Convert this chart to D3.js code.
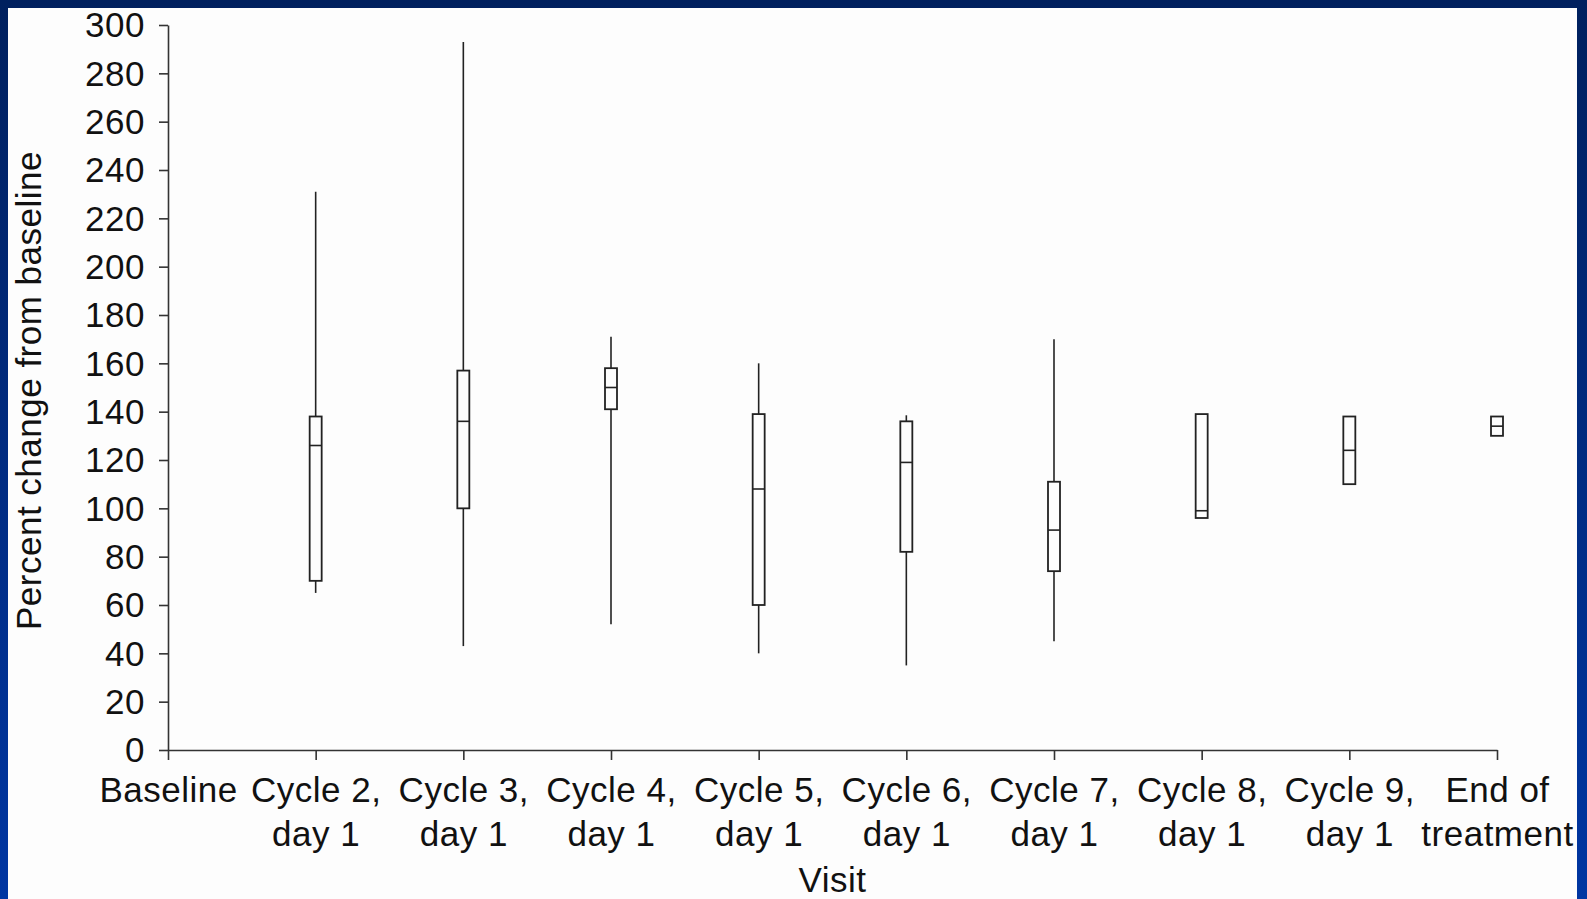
<!DOCTYPE html>
<html>
<head>
<meta charset="utf-8">
<script src="https://cdn.jsdelivr.net/npm/d3@7"></script>
<style>
  html, body { margin: 0; padding: 0; background: #fdfdfd; }
  svg { display: block; }
  text { font-family: "Liberation Sans", Arial, Helvetica, sans-serif; fill: #111; letter-spacing: 0.5px; }
</style>
</head>
<body>
<svg id="chart" width="1587" height="899"></svg>
<script>
// ---- data ----
const categories = ["Baseline", "Cycle 2,\nday 1", "Cycle 3,\nday 1", "Cycle 4,\nday 1", "Cycle 5,\nday 1",
                    "Cycle 6,\nday 1", "Cycle 7,\nday 1", "Cycle 8,\nday 1", "Cycle 9,\nday 1", "End of\ntreatment"];
const whiskerLow  = [null, 65, 43, 52, 40, 35, 45, 96, 110, 130];
const q1          = [null, 70, 100, 141, 60, 82, 74, 96, 110, 130];
const median      = [null, 126, 136, 150, 108, 119, 91, 99, 124, 134];
const q3          = [null, 138, 157, 158, 139, 136, 111, 139, 138, 138];
const whiskerHigh = [null, 231, 293, 171, 160, 138.5, 170, 139, 138, 138];
const yTicks = [0, 20, 40, 60, 80, 100, 120, 140, 160, 180, 200, 220, 240, 260, 280, 300];
const yTitle = "Percent change from baseline";
const xTitle = "Visit";

// ---- layout ----
const W = 1587, H = 899;
const svg = d3.select("#chart");

// frame with gradient border
const defs = svg.append("defs");
const grad = defs.append("linearGradient").attr("id", "bord").attr("x1", 0).attr("y1", 0).attr("x2", 0).attr("y2", 1);
grad.append("stop").attr("offset", "0%").attr("stop-color", "#00205e");
grad.append("stop").attr("offset", "100%").attr("stop-color", "#0036a2");
svg.append("rect").attr("width", W).attr("height", H).attr("fill", "url(#bord)");
svg.append("rect").attr("x", 8).attr("y", 8).attr("width", W - 8 - 10).attr("height", H - 8).attr("fill", "#fdfdfd");

const x = d3.scalePoint().domain(categories).range([168, 1497]);
const y = d3.scaleLinear().domain([0, 300]).range([750, 25]);

const FS = 35;

// y axis
const yAxis = svg.append("g").attr("transform", "translate(168,0)")
  .call(d3.axisLeft(y).tickValues(yTicks).tickSize(9).tickSizeOuter(0).tickPadding(14));
yAxis.select(".domain").attr("stroke", "#333").attr("stroke-width", 1.6);
yAxis.selectAll(".tick line").attr("stroke", "#333").attr("stroke-width", 1.6);
yAxis.selectAll(".tick text").attr("font-size", FS).attr("font-family", "Liberation Sans, Arial, sans-serif")
  .attr("fill", "#111").attr("dy", "0.34em");

// x axis
const xAxis = svg.append("g").attr("transform", "translate(0,750)")
  .call(d3.axisBottom(x).tickSize(10).tickSizeOuter(0).tickFormat(""));
xAxis.select(".domain").attr("stroke", "#333").attr("stroke-width", 1.6);
xAxis.selectAll(".tick line").attr("stroke", "#333").attr("stroke-width", 1.6);
xAxis.selectAll(".tick").each(function(d) {
  const lines = d.split("\n");
  const t = d3.select(this).append("text")
    .attr("text-anchor", "middle").attr("font-size", FS)
    .attr("font-family", "Liberation Sans, Arial, sans-serif").attr("fill", "#111");
  lines.forEach((l, i) => {
    t.append("tspan").attr("x", 0).attr("y", 52 + i * 44).text(l);
  });
});

// box plots
const data = categories.map((c, i) => ({
  c, lo: whiskerLow[i], q1: q1[i], med: median[i], q3: q3[i], hi: whiskerHigh[i]
})).filter(d => d.med !== null);

const bw = 12;
const g = svg.append("g");
data.forEach(d => {
  const cx = x(d.c);
  if (d.hi > d.q3)
    g.append("line").attr("x1", cx).attr("x2", cx).attr("y1", y(d.hi)).attr("y2", y(d.q3))
      .attr("stroke", "#222").attr("stroke-width", 1.6);
  if (d.lo < d.q1)
    g.append("line").attr("x1", cx).attr("x2", cx).attr("y1", y(d.q1)).attr("y2", y(d.lo))
      .attr("stroke", "#222").attr("stroke-width", 1.6);
  g.append("rect").attr("x", cx - bw / 2).attr("width", bw)
    .attr("y", y(d.q3)).attr("height", y(d.q1) - y(d.q3))
    .attr("fill", "#fdfdfd").attr("stroke", "#222").attr("stroke-width", 1.8);
  g.append("line").attr("x1", cx - bw / 2).attr("x2", cx + bw / 2)
    .attr("y1", y(d.med)).attr("y2", y(d.med)).attr("stroke", "#222").attr("stroke-width", 1.6);
});

// titles
svg.append("text").attr("x", (168 + 1497) / 2).attr("y", 892).attr("text-anchor", "middle")
  .attr("font-size", FS).text(xTitle);
svg.append("text").attr("transform", "translate(41," + ((25 + 750) / 2 + 3) + ") rotate(-90)")
  .attr("text-anchor", "middle").attr("font-size", FS).text(yTitle);
</script>
</body>
</html>
